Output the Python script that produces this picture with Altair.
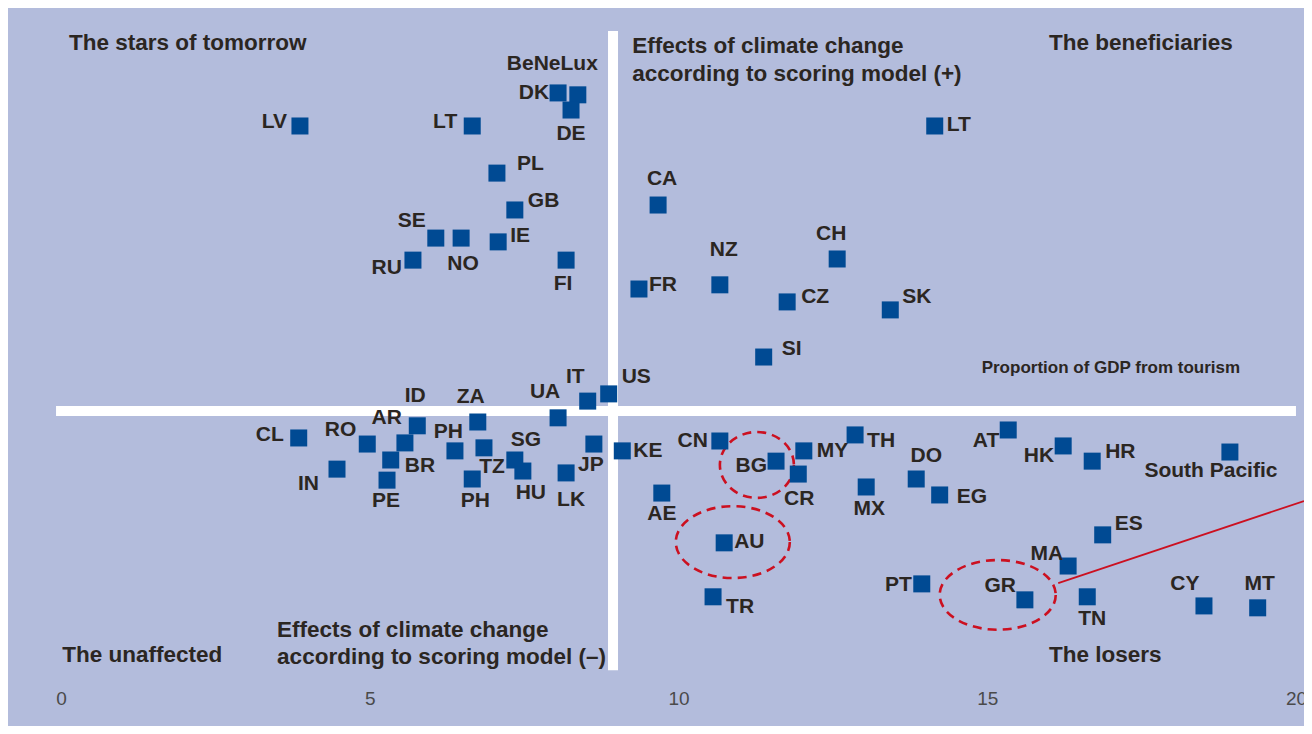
import altair as alt
import pandas as pd

# ---------------- data ----------------
codes = ["LV", "LT", "DK", "BeNeLux", "DE", "PL", "GB", "SE", "NO", "IE", "RU", "FI",
         "CA", "FR", "NZ", "CH", "CZ", "SK", "SI", "LT",
         "CL", "RO", "AR", "ID", "BR", "IN", "PE", "PH", "ZA", "TZ", "PH", "SG", "HU",
         "UA", "IT", "US", "LK", "JP", "KE",
         "AE", "CN", "BG", "CR", "MY", "TH", "MX", "DO", "EG", "AT", "HK", "HR",
         "South Pacific", "ES", "MA", "PT", "GR", "TN", "CY", "MT", "AU", "TR"]
tourism_gdp = [3.87, 6.66, 8.05, 8.37, 8.26, 7.06, 7.35, 6.07, 6.48, 7.08, 5.70, 8.18,
               9.67, 9.36, 10.67, 12.57, 11.76, 13.43, 11.38, 14.15,
               3.85, 4.96, 5.57, 5.77, 5.34, 4.47, 5.28, 6.38, 6.75, 6.85, 6.66, 7.35, 7.48,
               8.05, 8.53, 8.87, 8.18, 8.63, 9.09,
               9.73, 10.67, 11.58, 11.94, 12.03, 12.86, 13.04, 13.85, 14.23, 15.34, 16.23, 16.70,
               18.93, 16.87, 16.31, 13.94, 15.61, 16.62, 18.51, 19.38, 10.74, 10.56]
climate_score = [7.50, 7.50, 8.37, 8.32, 7.92, 6.26, 5.29, 4.55, 4.55, 4.45, 3.97, 3.97,
                 5.42, 3.21, 3.32, 4.00, 2.87, 2.66, 1.42, 7.50,
                 -0.71, -0.87, -0.84, -0.39, -1.29, -1.53, -1.82, -1.05, -0.29, -0.97, -1.79, -1.29, -1.58,
                 -0.18, 0.26, 0.45, -1.63, -0.87, -1.05,
                 -2.16, -0.79, -1.32, -1.66, -1.05, -0.63, -2.00, -1.79, -2.21, -0.50, -0.92, -1.32,
                 -1.08, -3.26, -4.08, -4.55, -4.97, -4.89, -5.13, -5.18, -3.47, -4.89]

# label placement (text anchor side and pixel offset from the marker)
label_align = ["right", "right", "right", "right", "center", "left", "left", "right", "center", "left", "right", "center",
               "center", "left", "center", "center", "left", "left", "left", "left",
               "right", "right", "right", "center", "left", "right", "center", "right", "center", "center", "center", "center", "center",
               "center", "right", "left", "center", "center", "left",
               "center", "right", "right", "center", "left", "left", "center", "center", "left", "right", "right", "left",
               "center", "left", "right", "right", "right", "center", "center", "center", "left", "left"]
label_dx = [-13, -15, -9, 20, 0, 20, 13, -10, 2, 12, -11, -3,
            4, 10, 4, -6, 14, 12, 18, 12,
            -15, -11, -3, -2, 14, -18, -1, 8, -7, 8, 3, 11, 8,
            -13, -3, 13, 5, -3, 11,
            0, -12, -9, 1, 13, 12, 3, 10, 17, -9, -9, 13,
            -19, 12, -5, -10, -9, 5, -19, 2, 10, 13]
label_dy = [-4, -4, 0, -31, 24, -9, -9, -17, 26, -6, 8, 24,
            -26, -4, -35, -25, -5, -13, -8, -1,
            -3, -14, -25, -30, 6, 15, 21, -19, -25, 19, 22, -20, 22,
            -26, -24, -17, 27, 21, 0,
            21, 0, 5, 25, 0, 6, 22, -23, 2, 11, 10, -9,
            19, -11, -12, 1, -14, 22, -22, -24, -1, 10]

tick_values = [0, 5, 10, 15, 20]

# quadrant / axis captions
note_text = ["The stars of tomorrow", "The beneficiaries", "The unaffected", "The losers",
             "Effects of climate change", "according to scoring model (+)",
             "Effects of climate change", "according to scoring model (–)"]
note_x = [0.13, 16.0, 0.02, 16.0, 9.25, 9.25, 3.50, 3.50]
note_y = [9.68, 9.68, -6.42, -6.42, 9.61, 8.87, -5.76, -6.47]

axis_note = ["Proportion of GDP from tourism"]
axis_note_x = [14.91]
axis_note_y = [1.13]

# white cross dividing the quadrants
cross_x = [8.94, -0.08]
cross_x2 = [8.94, 20.0]
cross_y = [10.0, 0.0]
cross_y2 = [-6.82, 0.0]

# dashed highlight ellipses (centre, half-width in px, height/width ratio)
ell_x = [11.27, 10.88, 15.17]
ell_y = [-1.42, -3.45, -4.84]
ell_halfw = [37, 57, 58]
ell_ratio = [0.89, 0.63, 0.60]

# red pointer line
ptr_x, ptr_y, ptr_x2, ptr_y2 = [16.15], [-4.53], [20.13], [-2.37]

# ---------------- layout ----------------
W, H = 1296, 718
X_DOM = [-0.858, 20.13]
Y_DOM = [-8.29, 10.605]
PX_X = W / (X_DOM[1] - X_DOM[0])
PX_Y = H / (Y_DOM[1] - Y_DOM[0])

BG = "#b3bcdc"
BLUE = "#004a93"
INK = "#2b2622"
RED = "#cc1020"
FONT = "Liberation Sans, Arial, sans-serif"

xs = alt.Scale(domain=X_DOM, nice=False, zero=False)
ys = alt.Scale(domain=Y_DOM, nice=False, zero=False)

pts = pd.DataFrame({"code": codes, "x": tourism_gdp, "y": climate_score,
                    "align": label_align, "dx": label_dx, "dy": label_dy})
pts["lx"] = pts["x"] + pts["dx"] / PX_X
pts["ly"] = pts["y"] - pts["dy"] / PX_Y

base_x = alt.X("x:Q", scale=xs,
               axis=alt.Axis(values=tick_values, format="d", domain=False, ticks=False, grid=False,
                             tickSize=0, labelFontSize=19, labelColor="#4a4a4a",
                             labelFont="Liberation Sans, sans-serif", offset=-28,
                             labelPadding=0, labelBaseline="middle", labelFlush=False,
                             title=None))

cross = alt.Chart(pd.DataFrame({"x": cross_x, "x2": cross_x2, "y": cross_y, "y2": cross_y2})).mark_rule(
    color="white", strokeWidth=10, strokeCap="butt").encode(
    x=base_x, x2="x2:Q", y=alt.Y("y:Q", scale=ys, axis=None), y2="y2:Q")

def ellipse_path(r):
    k = 0.5523
    return (f"M1,0C1,{k*r:.4f},{k:.4f},{r:.4f},0,{r:.4f}"
            f"C{-k:.4f},{r:.4f},-1,{k*r:.4f},-1,0"
            f"C-1,{-k*r:.4f},{-k:.4f},{-r:.4f},0,{-r:.4f}"
            f"C{k:.4f},{-r:.4f},1,{-k*r:.4f},1,0Z")

ell_layers = []
for ex, ey, hw, rr in zip(ell_x, ell_y, ell_halfw, ell_ratio):
    ell_layers.append(
        alt.Chart(pd.DataFrame({"x": [ex], "y": [ey]})).mark_point(
            shape=ellipse_path(rr), size=(2 * hw) ** 2, filled=False, stroke=RED,
            strokeWidth=2.6, strokeDash=[9, 6], opacity=1).encode(
            x=alt.X("x:Q", scale=xs), y=alt.Y("y:Q", scale=ys)))

pointer = alt.Chart(pd.DataFrame({"x": ptr_x, "y": ptr_y, "x2": ptr_x2, "y2": ptr_y2})).mark_rule(
    color=RED, strokeWidth=1.8).encode(
    x=alt.X("x:Q", scale=xs), y=alt.Y("y:Q", scale=ys), x2="x2:Q", y2="y2:Q")

squares = alt.Chart(pts).mark_square(size=289, color=BLUE, opacity=1, filled=True).encode(
    x=alt.X("x:Q", scale=xs), y=alt.Y("y:Q", scale=ys))

label_layers = []
for al in ["left", "center", "right"]:
    label_layers.append(
        alt.Chart(pts).transform_filter(alt.datum.align == al).mark_text(
            align=al, baseline="middle", font=FONT, fontSize=21, fontWeight="bold", color=INK).encode(
            x=alt.X("lx:Q", scale=xs), y=alt.Y("ly:Q", scale=ys), text="code:N"))

notes = alt.Chart(pd.DataFrame({"t": note_text, "x": note_x, "y": note_y})).mark_text(
    align="left", baseline="middle", font=FONT, fontSize=22.5, fontWeight="bold", color=INK).encode(
    x=alt.X("x:Q", scale=xs), y=alt.Y("y:Q", scale=ys), text="t:N")

axnote = alt.Chart(pd.DataFrame({"t": axis_note, "x": axis_note_x, "y": axis_note_y})).mark_text(
    align="left", baseline="middle", font=FONT, fontSize=17, fontWeight="bold", color=INK).encode(
    x=alt.X("x:Q", scale=xs), y=alt.Y("y:Q", scale=ys), text="t:N")

chart = alt.layer(cross, *ell_layers, pointer, squares, *label_layers, notes, axnote).properties(
    width=W, height=H, background=BG, padding=0,
    autosize=alt.AutoSizeParams(type="none")
).configure_view(stroke=None, fill=BG)

chart.save("out.html", embed_options={"renderer": "svg", "actions": False})
